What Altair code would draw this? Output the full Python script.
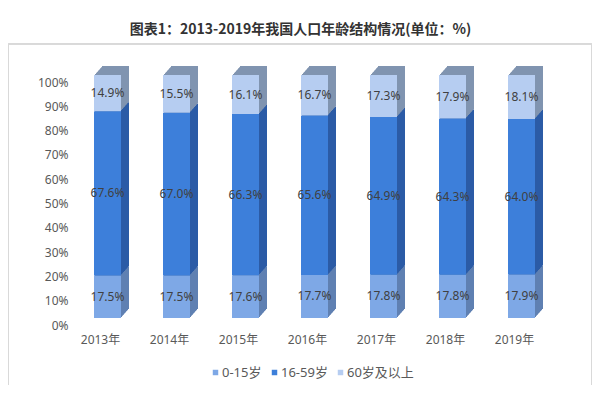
import altair as alt
import pandas as pd

years = ["2013年", "2014年", "2015年", "2016年", "2017年", "2018年", "2019年"]
groups = ["0-15岁", "16-59岁", "60岁及以上"]
age_0_15 = [17.5, 17.5, 17.6, 17.7, 17.8, 17.8, 17.9]
age_16_59 = [67.6, 67.0, 66.3, 65.6, 64.9, 64.3, 64.0]
age_60_plus = [14.9, 15.5, 16.1, 16.7, 17.3, 17.9, 18.1]
y_ticks = [0, 10, 20, 30, 40, 50, 60, 70, 80, 90, 100]

front_colors = ["#7EA8E6", "#3D7FDA", "#B6CDF1"]
side_colors = ["#5F80B2", "#2B5BA6", "#8094B0"]

series = [age_0_15, age_16_59, age_60_plus]
rows = []
for i, yr in enumerate(years):
    base = 0.0
    for k, (g, vals) in enumerate(zip(groups, series)):
        v = vals[i]
        rows.append(dict(year=yr, group=g, order=k, value=v, y0=base, y1=base + v,
                         mid=base + v / 2, label=f"{v:.1f}%", side=side_colors[k]))
        base += v
df = pd.DataFrame(rows)

FONT = "Noto Sans, Noto Sans CJK SC"
BW = 27
FY = -7
DEPTH = 8
SLOPE = 9 / 8

xenc = alt.X("year:N", sort=years, title=None,
             scale=alt.Scale(paddingInner=0, paddingOuter=0),
             axis=alt.Axis(labelAngle=0, domain=False, ticks=False, labelPadding=9,
                           labelOffset=-7, labelFontSize=12, labelColor="#595959",
                           labelFont=FONT))
yscale = alt.Scale(domain=[0, 100], nice=False)
yaxis = alt.Axis(values=y_ticks, labelExpr="datum.value + '%'", grid=False,
                 domain=False, ticks=False, labelPadding=5, labelFontSize=12,
                 labelColor="#595959", labelFont=FONT, labelOverlap=False)

frame = alt.Chart(df).mark_rect(fill=None, stroke="#D9D9D9", strokeWidth=1).encode(
    x=alt.value(-64.5), x2=alt.value(518.5), y=alt.value(-38), y2=alt.value(305))

sides = []
for d in range(DEPTH, 0, -1):
    off = FY - d * SLOPE
    sides.append(
        alt.Chart(df).mark_bar(width=BW, xOffset=d, yOffset=off, y2Offset=off).encode(
            x=xenc,
            y=alt.Y("y1:Q", scale=yscale, title=None, axis=yaxis),
            y2="y0:Q",
            color=alt.Color("side:N", scale=None, legend=None),
        )
    )

front = alt.Chart(df).mark_bar(width=BW, yOffset=FY, y2Offset=FY).encode(
    x=xenc,
    y=alt.Y("y1:Q", scale=yscale, title=None, axis=yaxis),
    y2="y0:Q",
    color=alt.Color("group:N", sort=groups,
                    scale=alt.Scale(domain=groups, range=front_colors),
                    legend=alt.Legend(title=None, orient="none", direction="horizontal",
                                      legendX=136, legendY=284, symbolType="square",
                                      symbolSize=30, symbolStrokeWidth=0,
                                      labelOffset=0, labelFontSize=13,
                                      labelColor="#595959", gridAlign="none",
                                      padding=0, labelFont=FONT, columnPadding=6)),
)

labels = alt.Chart(df).mark_text(fontSize=12, color="#404040", font=FONT,
                                 yOffset=FY, baseline="middle").encode(
    x=xenc,
    y=alt.Y("mid:Q", scale=yscale, title=None, axis=yaxis),
    text="label:N",
)

chart = alt.layer(frame, *sides, front, labels).resolve_scale(color="independent").properties(
    width=483,
    height=243,
    padding={"left": 65, "top": 74, "right": 36, "bottom": 60},
    autosize=alt.AutoSizeParams(type="none"),
    title=alt.TitleParams("图表1：2013-2019年我国人口年龄结构情况(单位：%)", fontSize=14,
                          fontWeight="bold", font="Noto Sans CJK SC", color="#333333",
                          anchor="middle", dx=-14, offset=7),
).configure_view(stroke=None)

chart.save("out.html", embed_options={"renderer": "svg", "actions": False})
